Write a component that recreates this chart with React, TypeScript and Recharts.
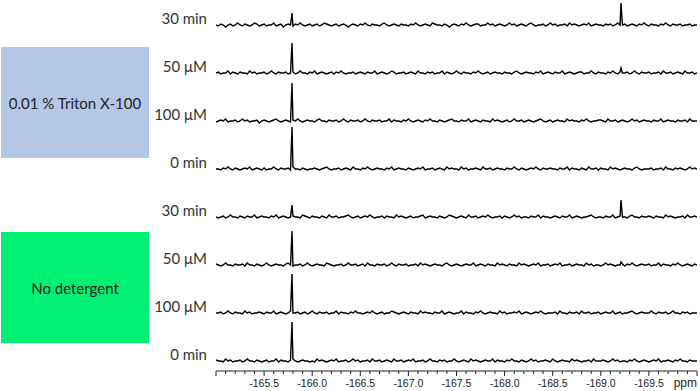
import React from "react";
import { LineChart, Line, XAxis, YAxis } from "recharts";

// stacked 19F spectra, top to bottom
const traceLabels = ["30 min", "50 \u03bcM", "100 \u03bcM", "0 min", "30 min", "50 \u03bcM", "100 \u03bcM", "0 min"];

// peak positions (ppm) and their heights per trace (null = no peak)
const peakPpm = [-165.79, -169.21];
const mainPeak = [15, 33, 41, 45, 15, 37, 42, 42];
const sidePeak = [25, 8, null, null, 20, 6, null, null];

// baseline noise, one sample every 0.025 ppm from -165.0
const triton30 = [
  3,2,4,3,1,3,4,2,3,5,3,2,4,3,2,3,5,4,2,3,
  4,2,3,3,5,2,3,4,1,3,4,3,2,4,3,5,3,2,3,4,
  2,3,4,2,3,5,4,3,2,3,4,2,3,4,3,1,3,4,3,2,
  4,3,5,3,2,4,3,3,2,4,5,3,2,3,4,3,2,4,3,3,
  2,4,3,5,3,2,3,4,3,2,5,4,3,3,2,4,3,1,3,4,
  3,2,4,3,5,3,2,3,4,4,2,3,3,5,3,4,2,3,4,3,
  2,3,5,3,4,2,3,4,3,2,4,5,3,2,3,3,4,2,3,5,
  3,4,2,3,3,4,2,5,3,4,3,2,3,4,3,5,2,3,4,3,
  3,2,4,3,4,2,3,5,3,3,4,2,3,4,3,2,4,3,5,3,
  2,4,3,3,2,4,3,5,3,2,4,3,3,4,2,3,3,4,2,3,
  3,
];
const triton50 = [
  3,4,2,3,3,5,2,4,3,2,4,3,3,2,5,3,4,2,3,3,
  4,2,3,5,3,2,4,3,3,4,2,3,4,2,3,5,3,3,2,4,
  3,5,2,3,4,3,2,3,4,2,4,3,5,3,2,3,3,4,2,3,
  4,3,2,4,3,3,5,2,3,4,3,2,3,5,4,2,3,3,4,2,
  3,4,3,2,5,3,3,2,4,3,4,2,3,3,5,2,4,3,2,3,
  5,3,2,4,3,3,2,4,3,5,3,2,3,4,2,3,4,3,3,2,
  4,3,3,2,4,5,3,2,3,4,3,3,2,4,3,5,2,3,4,3,
  2,4,3,3,5,2,3,4,3,2,3,4,4,2,3,3,5,3,2,4,
  3,3,2,4,3,5,3,2,4,3,3,4,2,3,5,3,2,4,3,3,
  4,2,3,3,4,2,5,3,3,4,2,3,4,3,2,5,3,3,4,2,
  3,
];
const triton100 = [
  2,3,4,3,5,2,3,3,4,2,3,5,3,4,2,3,3,4,1,3,
  4,3,2,3,4,5,3,2,3,4,3,2,4,3,5,3,2,3,4,3,
  3,2,4,5,3,3,2,4,3,3,4,2,3,5,3,2,4,3,3,4,
  2,3,5,3,2,4,3,3,4,2,3,3,5,2,4,3,3,2,4,3,
  5,3,2,3,4,3,2,4,3,5,3,3,2,4,3,2,3,4,5,3,
  3,2,4,3,3,5,2,3,4,3,2,4,3,3,2,5,3,4,3,2,
  3,4,2,3,5,3,3,4,2,3,4,3,2,3,4,5,3,2,3,4,
  2,3,4,3,3,2,5,3,4,3,3,2,4,3,5,3,2,3,3,4,
  4,3,2,5,3,3,4,2,3,4,3,2,3,5,3,4,2,3,4,3,
  3,2,4,3,3,5,2,3,4,3,3,2,4,3,3,4,2,5,3,3,
  3,
];
const triton0 = [
  3,3,2,4,3,5,3,2,4,3,2,3,4,3,5,2,3,4,3,2,
  4,2,3,3,5,3,2,4,3,3,4,2,5,3,3,2,4,3,2,3,
  3,4,3,2,3,4,5,3,2,3,3,4,2,3,4,3,2,5,3,3,
  2,4,3,5,3,2,3,4,3,3,2,4,3,5,2,3,4,3,3,2,
  4,3,2,3,4,3,5,2,3,3,4,2,3,4,3,2,5,3,4,3,
  3,2,5,3,4,2,3,3,4,3,2,5,3,3,4,2,3,4,3,3,
  2,4,3,3,5,3,2,4,3,2,3,4,3,5,3,2,4,3,3,4,
  3,3,2,4,3,3,5,2,4,3,3,2,4,3,2,5,3,3,4,2,
  4,3,3,2,5,3,4,3,2,3,4,3,3,2,4,5,3,2,3,3,
  3,4,2,3,3,4,2,5,3,3,2,4,3,4,3,2,3,5,3,4,
  3,
];
const plain30 = [
  3,2,3,4,2,3,5,3,3,2,4,3,2,4,3,3,5,2,3,4,
  3,3,2,4,3,5,2,3,4,3,2,3,4,3,3,2,5,4,3,2,
  4,3,3,2,4,3,2,5,3,3,4,2,3,3,4,5,3,2,3,4,
  2,3,4,3,5,3,2,3,3,4,2,4,3,3,2,5,3,4,3,2,
  3,4,2,3,3,4,5,2,3,4,3,3,2,4,3,2,3,5,4,3,
  2,3,4,3,2,5,3,3,4,2,3,4,3,5,3,2,3,3,4,2,
  4,3,2,3,5,3,4,2,3,3,2,4,3,3,5,2,4,3,3,2,
  3,4,3,2,4,3,3,5,2,3,4,3,2,3,3,4,5,3,2,3,
  3,2,4,3,3,5,2,3,4,3,3,2,4,5,3,3,2,4,3,3,
  4,3,2,4,3,3,2,5,3,4,3,2,3,3,4,2,5,3,3,4,
  3,
];
const plain50 = [
  4,3,2,3,5,3,3,2,4,3,3,4,2,5,3,3,2,4,3,2,
  3,5,3,2,3,4,3,3,2,4,5,3,2,3,3,4,2,3,5,3,
  2,3,4,3,3,2,5,4,3,2,3,3,4,2,3,5,3,3,4,2,
  3,4,2,5,3,3,2,4,3,3,4,2,3,5,3,2,4,3,3,4,
  2,3,3,4,2,5,3,4,3,2,3,4,3,3,2,4,5,3,2,3,
  4,3,2,3,4,3,3,5,2,3,4,3,2,4,3,3,2,5,3,4,
  3,2,4,3,3,2,5,3,4,3,2,3,4,3,5,2,3,3,4,2,
  3,4,3,5,2,3,3,4,2,3,4,3,3,2,5,3,4,2,3,3,
  2,3,5,3,4,3,2,3,3,4,2,4,3,5,3,2,3,4,3,3,
  4,2,3,3,5,2,4,3,3,2,4,3,5,3,2,3,4,3,2,4,
  3,
];
const plain100 = [
  3,3,4,2,3,5,3,2,4,3,3,2,5,3,4,2,3,3,4,3,
  2,4,3,3,5,2,3,4,3,2,3,5,3,3,4,2,3,4,2,3,
  5,3,2,4,3,3,4,2,3,3,5,2,4,3,3,2,4,3,5,3,
  3,2,3,4,3,5,3,2,3,4,2,3,3,5,4,3,2,3,4,3,
  2,4,3,3,2,5,3,4,3,3,2,4,3,3,5,2,3,4,3,2,
  3,3,5,2,4,3,3,2,4,3,5,3,2,3,4,3,3,2,5,3,
  4,2,3,3,4,3,5,2,3,4,3,2,3,4,3,5,3,2,3,3,
  3,4,2,5,3,3,2,4,3,3,4,2,5,3,3,4,2,3,3,4,
  2,3,4,3,3,5,2,3,4,2,3,3,4,5,3,2,3,4,3,3,
  3,5,3,2,4,3,3,4,2,3,5,3,3,2,4,3,4,2,3,3,
  3,
];
const plain0 = [
  4,3,3,2,5,3,4,2,3,3,4,2,3,5,3,3,2,4,3,2,
  3,4,2,3,3,5,2,4,3,3,2,4,5,3,2,3,4,3,3,2,
  3,2,5,3,4,3,2,3,4,3,5,2,3,3,4,2,3,5,3,4,
  2,3,3,4,2,5,3,3,4,2,3,4,3,2,5,3,3,4,2,3,
  4,3,5,2,3,3,4,2,3,5,3,3,2,4,3,4,2,3,3,5,
  3,2,3,4,3,2,5,3,4,3,2,3,4,3,3,5,2,4,3,3,
  2,4,3,5,3,3,2,4,3,2,3,5,3,4,2,3,3,4,3,2,
  5,3,2,3,4,3,3,2,5,3,4,3,2,3,3,4,2,5,3,3,
  3,4,3,2,3,5,3,4,2,3,3,2,4,3,5,3,2,3,4,3,
  2,3,4,3,5,2,3,3,4,3,2,4,3,5,3,3,2,4,3,3,
  3,
];
const traceNoise = [triton30, triton50, triton100, triton0, plain30, plain50, plain100, plain0];

const xTicks = [
  -165.0, -165.1, -165.2, -165.3, -165.4, -165.5, -165.6, -165.7, -165.8, -165.9,
  -166.0, -166.1, -166.2, -166.3, -166.4, -166.5, -166.6, -166.7, -166.8, -166.9,
  -167.0, -167.1, -167.2, -167.3, -167.4, -167.5, -167.6, -167.7, -167.8, -167.9,
  -168.0, -168.1, -168.2, -168.3, -168.4, -168.5, -168.6, -168.7, -168.8, -168.9,
  -169.0, -169.1, -169.2, -169.3, -169.4, -169.5, -169.6, -169.7, -169.8, -169.9,
  -170.0,
];

const PPM_START = -165;
const PPM_STEP = 0.025;
const STACK_BASE = 7;
const STACK_STEP = 48;

const offsetOf = (k: number) => STACK_BASE + (traceNoise.length - 1 - k) * STACK_STEP;

const traces = traceNoise.map((noise, k) => {
  const off = offsetOf(k);
  const pts = noise.map((v, i) => ({ ppm: PPM_START - i * PPM_STEP, v: v + off }));
  const heights = [mainPeak[k], sidePeak[k]];
  peakPpm.forEach((p, j) => {
    if (heights[j] != null) pts.push({ ppm: p, v: (heights[j] as number) + off });
  });
  pts.sort((a, b) => b.ppm - a.ppm);
  return pts;
});

const labelTicks = traceLabels.map((_, k) => offsetOf(k) + 9);
const labelFor = (v: number) => {
  const k = labelTicks.indexOf(v);
  return k >= 0 ? traceLabels[k] : "";
};

const PpmTick = (props: any) => {
  const { x, y, payload } = props;
  const v = payload.value as number;
  const major = Math.abs(v * 2 - Math.round(v * 2)) < 1e-6;
  const isEnd = Math.abs(v + 170) < 1e-6;
  const isStart = Math.abs(v + 165) < 1e-6;
  return (
    <g>
      <line x1={x} x2={x} y1={y} y2={y + (major ? 5 : 3)} stroke="#222" strokeWidth={1} />
      {isEnd ? (
        <text x={x} y={y + 16} textAnchor="end" fontSize={12} fill="#222" fontFamily="Liberation Sans, Arial">
          ppm
        </text>
      ) : major && !isStart ? (
        <text x={x} y={y + 15.5} textAnchor="middle" fontSize={10.5} fill="#222" fontFamily="Liberation Sans, Arial">
          {v.toFixed(1)}
        </text>
      ) : null}
    </g>
  );
};

const boxStyle: React.CSSProperties = {
  position: "absolute",
  left: 1,
  width: 148,
  height: 111,
  display: "flex",
  alignItems: "center",
  justifyContent: "center",
  fontFamily: "Lato, sans-serif",
  fontSize: 15,
  color: "#222",
};

export default function App() {
  return (
    <div style={{ position: "absolute", left: 0, top: 0, width: 700, height: 391, background: "#fff" }}>
      <div style={{ ...boxStyle, top: 47, background: "#B4C7E7" }}>0.01 % Triton X-100</div>
      <div style={{ ...boxStyle, top: 232, background: "#00F074" }}>No detergent</div>
      <LineChart
        width={700}
        height={391}
        margin={{ top: 0, right: 3, bottom: 0, left: 0 }}
        style={{ position: "absolute", left: 0, top: 0 }}
      >
        <XAxis
          dataKey="ppm"
          type="number"
          domain={[-170, -165]}
          reversed
          allowDataOverflow
          ticks={xTicks}
          interval={0}
          tickSize={0}
          tickMargin={0}
          tickLine={false}
          tick={<PpmTick />}
          axisLine={{ stroke: "#222" }}
          height={20}
        />
        <YAxis
          type="number"
          domain={[0, 371]}
          ticks={labelTicks}
          tickFormatter={labelFor}
          interval={0}
          width={216}
          axisLine={false}
          tickLine={false}
          tickSize={4}
          tickMargin={5}
          tick={{ fontSize: 15, fill: "#333", fontFamily: "Lato, sans-serif" }}
        />
        {traces.map((pts, k) => (
          <Line
            key={k}
            data={pts}
            dataKey="v"
            type="linear"
            stroke="#000"
            strokeWidth={1.4}
            dot={false}
            isAnimationActive={false}
          />
        ))}
      </LineChart>
    </div>
  );
}
